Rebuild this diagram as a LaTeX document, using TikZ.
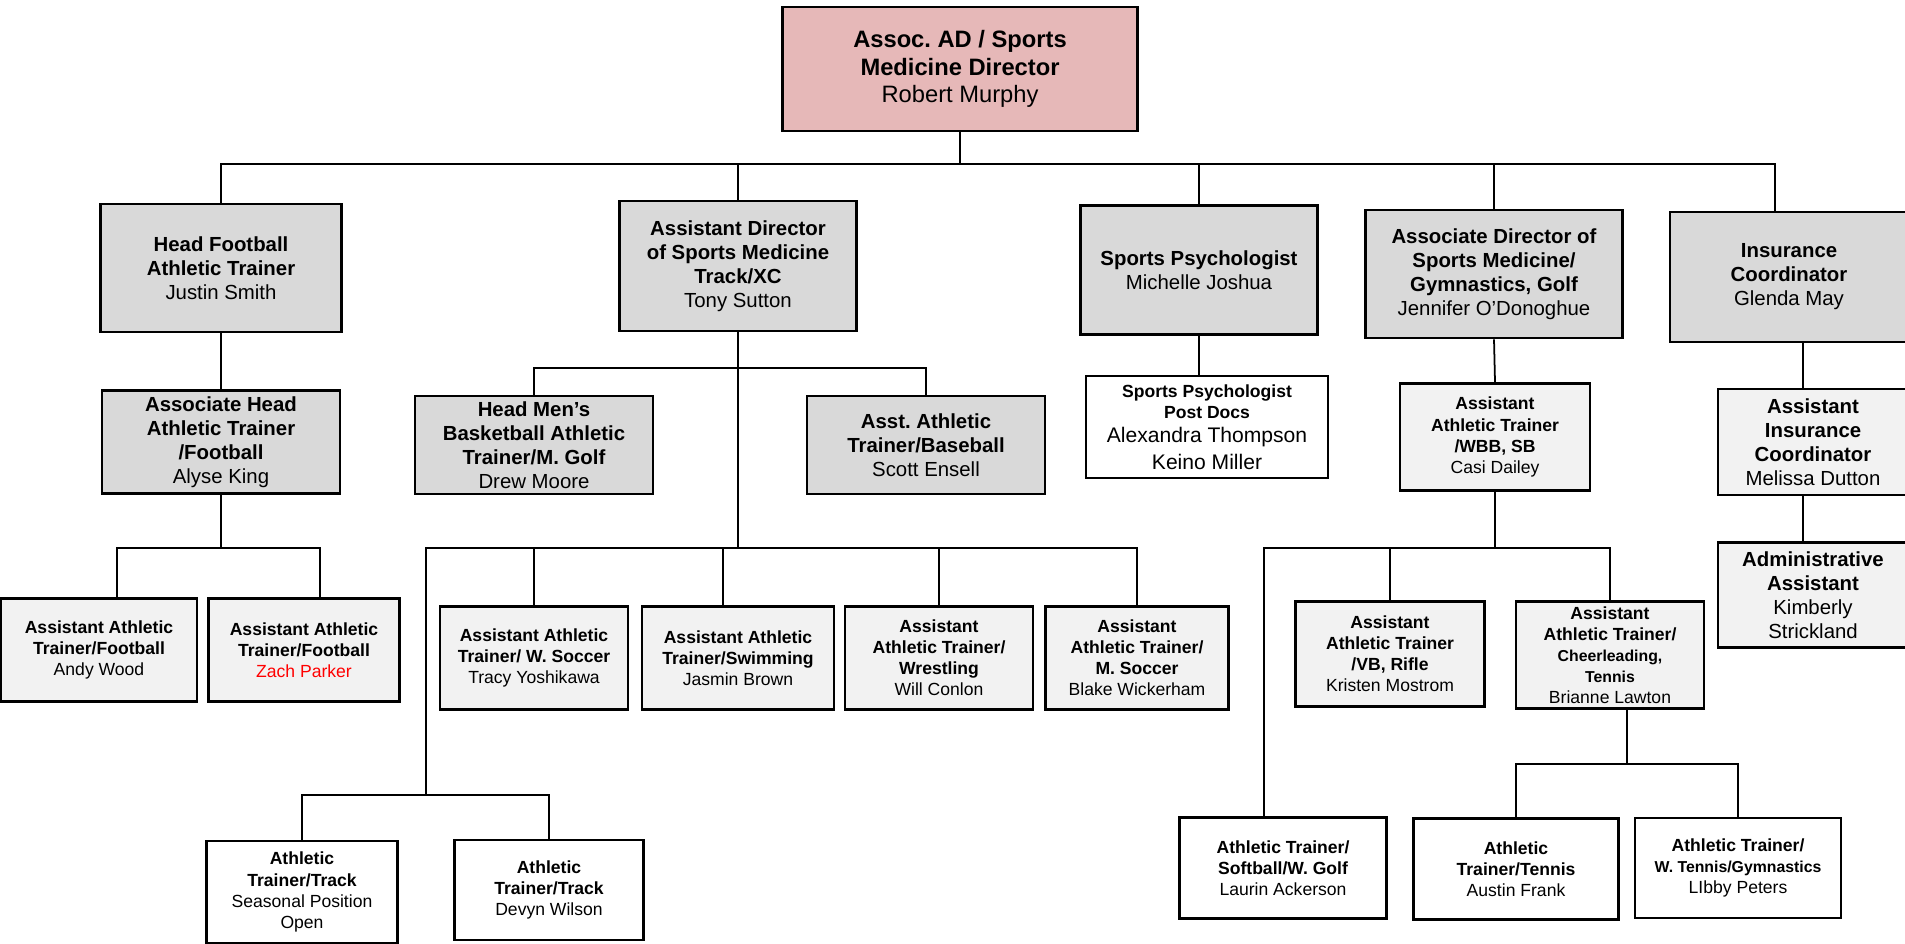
\documentclass[tikz,border=0pt]{standalone}
\usepackage{fontspec}
\setmainfont{Liberation Sans}
\usepackage{xcolor}
\usepackage{tikz}
\usetikzlibrary{%
  calc,%
  positioning}
\frenchspacing

\definecolor{topfill}{HTML}{E6B8B8}
\definecolor{headfill}{HTML}{D9D9D9}
\definecolor{subfill}{HTML}{F2F2F2}

\newcommand{\fsTop}{\fontsize{13.5}{15.6}\selectfont}
\newcommand{\fsMid}{\fontsize{11.6}{13.7}\selectfont}
\newcommand{\fsSm}{\fontsize{10}{12}\selectfont}
\newcommand{\fsXs}{\fontsize{9}{11.4}\selectfont}

\tikzset{
  box/.style={rectangle, draw=black, line width=1.6pt, align=center, inner sep=1pt},
  sz/.style 2 args={minimum width=#1*0.02cm, minimum height=#2*0.02cm},
  topbox/.style={box, fill=topfill, font=\fsTop},
  headbox/.style={box, fill=headfill, font=\fsMid},
  subbox/.style={box, fill=subfill, font=\fsSm},
  subboxB/.style={box, fill=subfill, font=\fsMid},
  openbox/.style={box, fill=white, font=\fsSm},
  link/.style={line width=1pt}
}

\begin{document}
\begin{tikzpicture}[x=0.02cm,y=-0.02cm]
\useasboundingbox (0,0) rectangle (1905,943);
\fill[white] (0,0) rectangle (1905,943);
\clip (0,0) rectangle (1905,943);
% noeuds : direction et premier niveau
\node (Top) at (960,69) [topbox, sz={355}{124}] {\textbf{Assoc. AD / Sports}\\\textbf{Medicine Director}\\Robert Murphy};
\node (HF) at (221,268) [headbox, sz={241}{128}] {\textbf{Head Football}\\\textbf{Athletic Trainer}\\Justin Smith};
\node (AD) at (738,266) [headbox, sz={237}{130}] {\textbf{Assistant Director}\\\textbf{of Sports Medicine}\\\textbf{Track/XC}\\Tony Sutton};
\node (SP) at (1199,270) [headbox, sz={237}{129}] {\textbf{Sports Psychologist}\\Michelle Joshua};
\node (ADSM) at (1494,274) [headbox, sz={257}{128}] {\textbf{Associate Director of}\\\textbf{Sports Medicine/}\\\textbf{Gymnastics, Golf}\\Jennifer O’Donoghue};
\node (IC) at (1789,277) [headbox, sz={238}{130}] {\textbf{Insurance}\\\textbf{Coordinator}\\Glenda May};
% second niveau
\node (AHAT) at (221,442) [headbox, sz={238}{103}] {\textbf{Associate Head}\\\textbf{Athletic Trainer}\\\textbf{/Football}\\Alyse King};
\node (HMB) at (534,445) [headbox, sz={238}{98}] {\textbf{Head Men’s}\\\textbf{Basketball Athletic}\\\textbf{Trainer/M. Golf}\\Drew Moore};
\node (AAB) at (926,445) [headbox, sz={238}{98}] {\textbf{Asst. Athletic}\\\textbf{Trainer/Baseball}\\Scott Ensell};
\node (SPPD) at (1207,427) [openbox, sz={242}{102}] {\textbf{Sports Psychologist}\\\textbf{Post Docs}\\[2pt]{\fontsize{12}{14}\selectfont Alexandra Thompson}\\[3pt]{\fontsize{12}{14}\selectfont Keino Miller}};
\node (AATW) at (1495,437) [subbox, sz={190}{107}] {\textbf{Assistant}\\\textbf{Athletic Trainer}\\\textbf{/WBB, SB}\\Casi Dailey};
\node (AIC) at (1813,442) [subboxB, sz={190}{106}] {\textbf{Assistant}\\\textbf{Insurance}\\\textbf{Coordinator}\\Melissa Dutton};
\node (Adm) at (1813,595) [subboxB, sz={190}{105}] {\textbf{Administrative}\\\textbf{Assistant}\\Kimberly\\Strickland};
% troisieme niveau
\node (AATF1) at (99,650) [subbox, sz={196}{103}] {\textbf{Assistant Athletic}\\\textbf{Trainer/Football}\\Andy Wood};
\node (AATF2) at (304,650) [subbox, sz={191}{103}] {\textbf{Assistant Athletic}\\\textbf{Trainer/Football}\\\textcolor{red}{Zach Parker}};
\node (WS) at (534,658) [subbox, sz={188}{103}] {\textbf{Assistant Athletic}\\\textbf{Trainer/ W. Soccer}\\Tracy Yoshikawa};
\node (Swim) at (738,658) [subbox, sz={192}{103}] {\textbf{Assistant Athletic}\\\textbf{Trainer/Swimming}\\Jasmin Brown};
\node (Wr) at (939,658) [subbox, sz={188}{103}] {\textbf{Assistant}\\\textbf{Athletic Trainer/}\\\textbf{Wrestling}\\Will Conlon};
\node (MS) at (1137,658) [subbox, sz={183}{103}] {\textbf{Assistant}\\\textbf{Athletic Trainer/}\\\textbf{M. Soccer}\\Blake Wickerham};
\node (VB) at (1390,654) [subbox, sz={189}{105}] {\textbf{Assistant}\\\textbf{Athletic Trainer}\\\textbf{/VB, Rifle}\\Kristen Mostrom};
\node (Ch) at (1610,655) [subbox, sz={188}{107}] {\textbf{Assistant}\\\textbf{Athletic Trainer/}\\{\fsXs\textbf{Cheerleading,}}\\{\fsXs\textbf{Tennis}}\\Brianne Lawton};
% quatrieme niveau
\node (T1) at (302,892) [openbox, sz={191}{102}] {\textbf{Athletic}\\\textbf{Trainer/Track}\\Seasonal Position\\Open};
\node (T2) at (549,890) [openbox, sz={189}{100}] {\textbf{Athletic}\\\textbf{Trainer/Track}\\Devyn Wilson};
\node (SB) at (1283,868) [openbox, sz={207}{101}] {\textbf{Athletic Trainer/}\\\textbf{Softball/W. Golf}\\Laurin Ackerson};
\node (Ten) at (1516,869) [openbox, sz={205}{101}] {\textbf{Athletic}\\\textbf{Trainer/Tennis}\\Austin Frank};
\node (WTG) at (1738,868) [openbox, sz={206}{100}] {\textbf{Athletic Trainer/}\\{\fsXs\textbf{W. Tennis/Gymnastics}}\\LIbby Peters};
% barres et colonnes des liaisons
\coordinate (busA) at (0,164);
\coordinate (busB) at (0,368);
\coordinate (busC) at (0,548);
\coordinate (busD) at (0,795);
\coordinate (busE) at (0,764);
\coordinate (xIC) at (1775,0);
\coordinate (xAIC) at (1803,0);
\coordinate (xF1) at (117,0);
\coordinate (xF2) at (320,0);
\coordinate (xTr) at (426,0);
\coordinate (xSw) at (723,0);
\coordinate (xSB) at (1264,0);
\coordinate (xCh) at (1627,0);
% liaisons
\draw[link] (Top.south) -- (Top.south |- busA);
\draw[link] (HF.north) |- (xIC |- busA) -- (xIC |- IC.north);
\foreach \n in {AD,SP,ADSM}
  \draw[link] (\n.north) -- (\n.north |- busA);
\draw[link] (HF.south) -- (AHAT.north);
\draw[link] (AHAT.south) -- (AHAT.south |- busC);
\draw[link] (xF1 |- AATF1.north) |- (xF2 |- busC) -- (xF2 |- AATF2.north);
\draw[link] (AD.south) -- (AD.south |- busC);
\draw[link] (HMB.north) |- (AAB.north |- busB) -- (AAB.north);
\draw[link] (xTr |- busD) |- (MS.north |- busC) -- (MS.north);
\foreach \n in {WS,Wr}
  \draw[link] (\n.north) -- (\n.north |- busC);
\draw[link] (xSw |- busC) -- (xSw |- Swim.north);
\draw[link] (T1.north) |- (T2.north |- busD) -- (T2.north);
\draw[link] (SP.south) -- (SP.south |- SPPD.north);
\draw[link] (ADSM.south) -- (AATW.north);
\draw[link] (AATW.south) -- (AATW.south |- busC);
\draw[link] (xSB |- SB.north) |- (Ch.north |- busC) -- (Ch.north);
\draw[link] (VB.north) -- (VB.north |- busC);
\draw[link] (xCh |- Ch.south) -- (xCh |- busE);
\draw[link] (Ten.north) |- (WTG.north |- busE) -- (WTG.north);
\draw[link] (xAIC |- IC.south) -- (xAIC |- AIC.north);
\draw[link] (xAIC |- AIC.south) -- (xAIC |- Adm.north);
\end{tikzpicture}
\end{document}
